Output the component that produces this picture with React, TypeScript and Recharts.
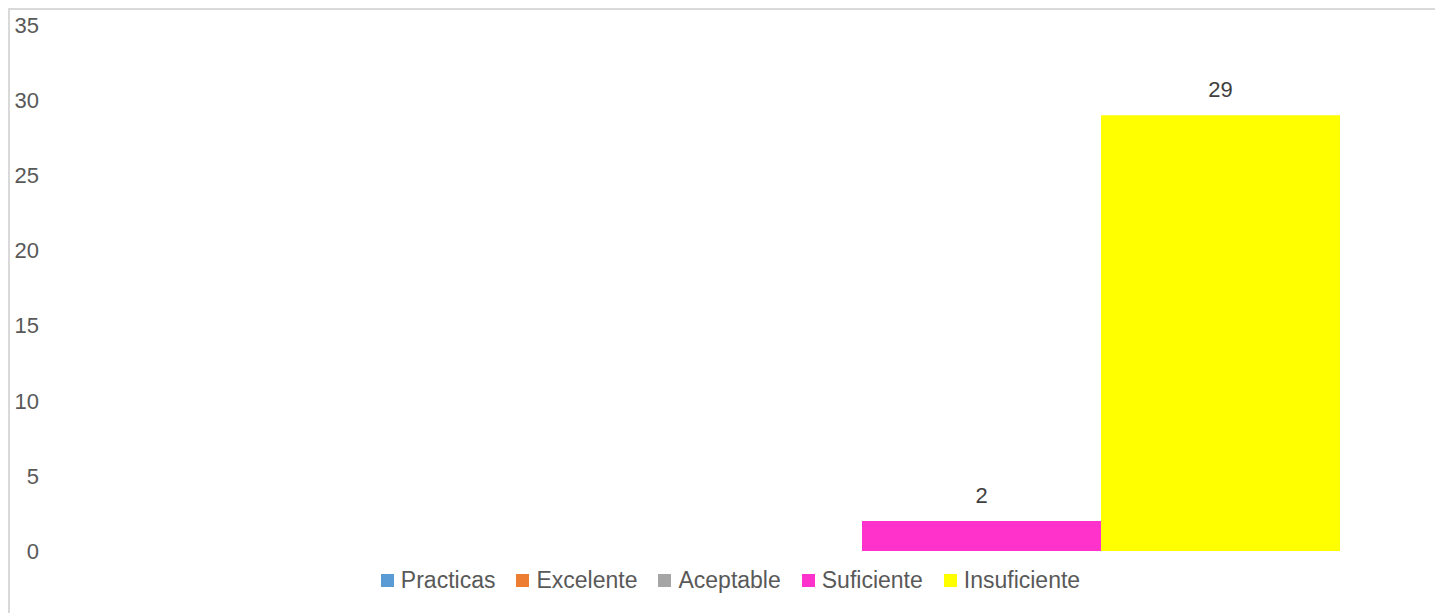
import { BarChart, Bar, XAxis, YAxis, Legend, LabelList } from "recharts"

const categories = ["Evaluación"]
const seriesNames = ["Practicas", "Excelente", "Aceptable", "Suficiente", "Insuficiente"]
const seriesValues = [0, 0, 0, 2, 29]
const seriesColors = ["#5B9BD5", "#ED7D31", "#A5A5A5", "#FF33CC", "#FFFF00"]
const yTicks = [0, 5, 10, 15, 20, 25, 30, 35]

const data = categories.map((name) => {
  const row: Record<string, string | number> = { name }
  seriesNames.forEach((s, i) => {
    row[s] = seriesValues[i]
  })
  return row
})

const font = "'Liberation Sans', Arial, sans-serif"

function LegendContent() {
  return (
    <div
      style={{
        display: "flex",
        justifyContent: "center",
        alignItems: "center",
        paddingLeft: 13,
        height: 30,
        fontFamily: font,
        fontSize: 23,
        color: "#595959",
      }}
    >
      {seriesNames.map((s, i) => (
        <div key={s} style={{ display: "flex", alignItems: "center", marginRight: i < seriesNames.length - 1 ? 21 : 0 }}>
          <span style={{ width: 13, height: 13, background: seriesColors[i], marginRight: 7, display: "inline-block" }} />
          <span>{s}</span>
        </div>
      ))}
    </div>
  )
}

export default function App() {
  return (
    <div style={{ width: 1440, height: 620, border: "2px solid #D9D9D9", background: "#fff" }}>
      <style>{"html,body{overflow:hidden}"}</style>
      <BarChart
        width={1430}
        height={600}
        data={data}
        margin={{ top: 15, right: 2, left: 0, bottom: 29 }}
        barCategoryGap={98}
        barGap={0}
      >
        <XAxis dataKey="name" hide />
        <YAxis
          width={37}
          domain={[0, 35]}
          ticks={yTicks}
          axisLine={false}
          tickLine={false}
          tick={{ fill: "#595959", fontSize: 22, fontFamily: font }}
        />
        <Legend
          verticalAlign="bottom"
          height={30}
          wrapperStyle={{ bottom: 15 }}
          content={() => <LegendContent />}
        />
        {seriesNames.map((s, i) => (
          <Bar key={s} dataKey={s} fill={seriesColors[i]} isAnimationActive={false}>
            {seriesValues[i] > 0 && (
              <LabelList
                dataKey={s}
                position="top"
                offset={18}
                fill="#404040"
                fontSize={22}
                fontFamily={font}
              />
            )}
          </Bar>
        ))}
      </BarChart>
    </div>
  )
}
